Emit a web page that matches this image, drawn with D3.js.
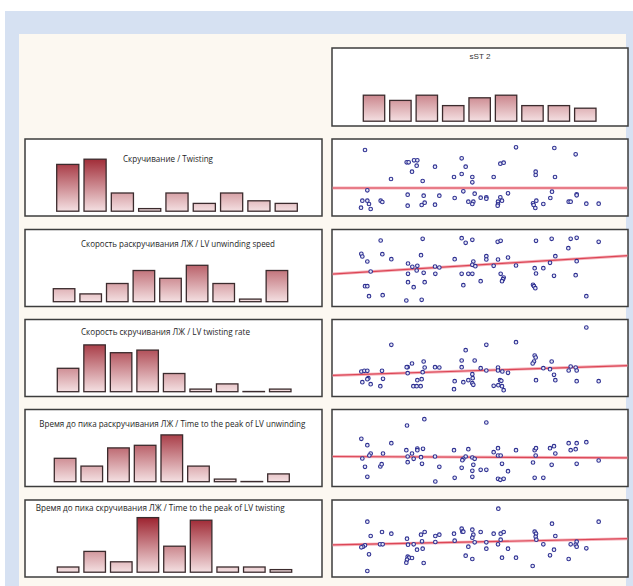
<!DOCTYPE html>
<html>
<head>
<meta charset="utf-8">
<script src="https://cdn.jsdelivr.net/npm/d3@7"></script>
<style>
body { margin:0; background:#fff; }
svg { display:block; }
</style>
</head>
<body>
<div id="chart"></div>
<script>
// ---- data ----
var bins = [0,1,2,3,4,5,6,7,8];
var sst2Counts = [10,8,10,6,9,10,6,6,5];
var twistCounts = [18,20,7,1,7,3,7,4,3];
var unwindSpeedCounts = [5,3,7,12,9,14,7,1,12];
var twistRateCounts = [9,18,15,16,7,1,3,0,1];
var timeUnwindCounts = [9,6,13,14,18,6,1,0,3];
var timeTwistCounts = [2,8,4,21,10,20,2,2,1];

var topTitle = "sST 2";
var rowTitles = [
  "Скручивание / Twisting",
  "Скорость раскручивания ЛЖ / LV unwinding speed",
  "Скорость скручивания ЛЖ / LV twisting rate",
  "Время до пика раскручивания ЛЖ / Time to the peak of LV unwinding",
  "Время до пика скручивания ЛЖ / Time to the peak of LV twisting"
];

// regression lines: y = a + b*x
var fitA = [8.4, 9.7, 6.3, 9.0, 9.6];
var fitB = [0, 0.0622, 0.0333, -0.0044, 0.0211];

// scatter points [sST2, value]
var twistPts = [[10.5,19.8],[55.8,20.6],[67.3,20.4],[73.7,18.5],[23.0,16.1],[23.6,16.1],[25.2,16.7],[26.2,16.7],[26.0,15.1],[24.6,13.3],[31.5,14.8],[39.5,17.3],[40.7,14.8],[39.5,12.6],[37.2,11.7],[42.7,11.7],[42.7,10.1],[27.8,10.5],[18.3,11.1],[51.1,15.7],[52.1,16.0],[49.1,11.7],[61.7,13.3],[61.7,12.3],[67.5,11.7],[11.2,7.7],[9.7,4.6],[11.2,4.6],[11.7,3.6],[9.3,2.5],[12.2,2.1],[15.2,4.6],[15.7,4.2],[23.3,6.4],[23.3,3.1],[28.1,6.1],[27.5,3.3],[28.4,4.0],[31.5,3.4],[32.8,6.1],[37.4,5.4],[40.0,7.4],[41.5,4.3],[43.0,4.3],[42.7,3.6],[43.4,6.7],[45.2,5.5],[46.9,5.6],[46.9,5.2],[50.4,4.3],[50.4,3.5],[50.3,3.1],[51.1,5.6],[51.6,4.6],[53.4,6.8],[60.9,3.8],[61.1,3.3],[61.9,4.6],[61.6,2.4],[64.0,3.6],[66.1,5.4],[66.6,7.3],[71.6,4.3],[72.2,4.3],[74.0,6.5],[74.0,6.2],[76.9,3.7],[80.6,3.7]];
var unwindSpeedPts = [[15.2,19.8],[27.8,20.3],[39.5,20.5],[40.7,19.1],[42.7,20.0],[50.3,19.4],[51.2,19.7],[61.8,19.7],[66.5,20.3],[72.2,20.3],[74.0,20.6],[80.6,19.4],[71.5,17.5],[9.4,15.8],[9.7,15.0],[15.7,15.7],[11.2,13.5],[18.4,14.2],[27.3,15.4],[37.4,14.2],[46.9,15.1],[46.9,14.1],[50.4,14.1],[53.4,14.7],[67.6,15.1],[74.0,13.6],[66.0,13.1],[23.4,12.9],[24.7,11.9],[26.2,12.2],[26.0,10.8],[31.5,12.0],[32.8,11.7],[43.0,13.5],[42.7,12.5],[43.6,12.1],[49.1,12.2],[55.8,12.3],[61.4,11.5],[64.0,11.5],[61.8,9.9],[12.2,10.5],[23.4,9.8],[28.1,10.1],[31.6,9.8],[39.5,9.8],[41.5,9.8],[42.7,9.8],[51.2,9.8],[52.1,8.7],[51.9,8.2],[51.6,7.6],[67.2,9.2],[73.7,9.4],[23.4,7.3],[28.4,7.3],[45.2,7.6],[10.5,6.1],[11.2,6.1],[25.1,5.8],[40.0,6.4],[60.9,6.5],[61.2,6.1],[61.6,5.5],[11.7,3.1],[15.8,3.4],[22.9,1.8],[27.5,2.0],[76.9,3.1]];
var twistRatePts = [[76.9,20.7],[18.4,15.5],[46.9,15.5],[55.8,16.3],[40.7,13.9],[39.5,10.8],[43.4,10.8],[39.5,8.8],[45.2,8.5],[46.9,7.8],[50.4,8.7],[50.4,7.8],[53.4,7.1],[51.7,7.5],[61.4,12.3],[61.7,11.7],[61.2,10.5],[60.8,9.9],[66.5,10.5],[64.0,8.5],[66.0,8.2],[67.2,6.5],[67.6,4.9],[72.2,9.0],[73.7,8.7],[74.0,7.8],[71.6,7.8],[23.3,8.8],[23.0,8.8],[24.6,9.9],[28.1,10.5],[28.4,8.7],[27.8,7.3],[23.3,7.0],[31.5,8.8],[32.8,8.7],[9.4,7.5],[10.3,7.7],[11.2,7.7],[15.6,7.7],[11.5,5.5],[11.2,5.2],[9.7,4.3],[12.2,3.7],[15.1,3.1],[15.9,5.3],[26.2,4.9],[27.5,5.2],[25.0,3.1],[26.0,3.1],[27.2,3.1],[37.4,4.6],[37.2,2.2],[40.0,4.3],[41.5,4.9],[42.7,4.0],[42.8,5.5],[42.7,6.7],[43.0,3.5],[49.1,3.2],[51.0,4.9],[51.4,4.7],[50.5,3.4],[51.6,3.1],[52.1,1.9],[61.8,4.9],[74.0,4.6],[80.6,4.6]];
var timeUnwindPts = [[28.3,20.2],[23.1,18.3],[46.9,19.2],[9.4,14.3],[11.2,12.4],[18.4,13.0],[12.2,9.9],[11.8,9.3],[15.9,9.9],[9.7,8.4],[10.5,5.9],[11.2,2.9],[15.1,6.0],[15.5,6.7],[22.9,10.9],[23.3,9.0],[24.6,9.9],[26.2,11.4],[26.2,10.9],[27.9,11.3],[27.3,8.8],[25.1,8.3],[23.3,7.3],[27.6,6.8],[31.5,9.0],[32.8,5.9],[31.6,1.5],[37.2,10.9],[41.5,11.2],[40.7,9.0],[40.0,8.3],[39.7,7.9],[39.5,5.6],[42.7,8.7],[43.4,8.3],[43.0,6.5],[42.7,4.7],[42.7,2.9],[37.4,2.6],[45.2,5.0],[46.9,5.0],[49.1,10.3],[50.4,11.5],[50.4,9.3],[51.2,9.3],[51.6,6.8],[53.4,4.6],[50.4,2.3],[51.1,2.0],[52.1,2.3],[55.8,10.9],[61.4,10.9],[61.8,11.5],[61.7,9.3],[60.9,7.2],[61.4,2.6],[64.0,2.6],[66.0,11.5],[67.2,12.1],[67.6,9.9],[66.5,6.5],[71.6,13.0],[74.0,13.0],[76.9,13.3],[72.2,10.9],[73.7,11.2],[74.0,6.8],[80.6,7.8]];
var timeTwistPts = [[50.5,20.5],[80.6,16.6],[11.2,16.6],[66.6,16.0],[15.6,13.5],[18.4,13.0],[12.2,12.3],[27.3,12.7],[28.4,13.5],[31.6,12.3],[32.8,12.7],[37.2,13.0],[37.4,10.9],[39.5,14.5],[39.7,13.6],[40.0,13.6],[42.7,14.2],[43.0,12.7],[42.7,11.8],[45.2,13.5],[49.1,13.0],[51.2,13.0],[52.1,13.5],[51.2,11.2],[61.4,13.6],[61.8,13.0],[61.7,12.1],[61.9,11.2],[67.6,12.3],[23.1,11.5],[23.4,9.7],[25.1,9.8],[27.6,10.7],[26.1,8.2],[27.8,8.5],[31.6,10.5],[15.0,9.8],[15.8,9.8],[10.5,9.5],[9.9,9.1],[9.4,8.9],[43.4,10.4],[46.9,10.4],[46.9,8.5],[50.4,9.8],[53.4,8.5],[41.5,9.1],[64.0,9.8],[67.2,8.2],[66.0,6.5],[72.2,9.8],[74.0,10.6],[73.7,9.7],[74.0,9.1],[76.9,8.6],[11.7,6.8],[23.3,6.1],[23.7,5.8],[24.6,5.7],[23.1,5.2],[22.9,4.3],[28.1,4.2],[40.7,6.4],[42.7,5.4],[51.6,5.8],[55.8,5.8],[71.6,5.4],[60.8,3.3],[11.2,1.8]];

var rowCounts = [twistCounts, unwindSpeedCounts, twistRateCounts, timeUnwindCounts, timeTwistCounts];
var rowPts = [twistPts, unwindSpeedPts, twistRatePts, timeUnwindPts, timeTwistPts];

// ---- layout ----
var W = 633, H = 586;
var rowTop = [139, 229.5, 319.5, 409.5, 500];
var panelH = 77;
var leftX = [25, 322], rightX = [332, 628];
var barRange = [[56.7,297.3],[53.3,287.7],[57.3,291],[54.3,289.3],[57.3,291.7]];
var titlePos = [[123,161.5,90],[81,246.7,194],[81,335,169],[39.3,426.7,266],[35.7,511.3,249]];

var svg = d3.select("#chart").append("svg").attr("width", W).attr("height", H);
var defs = svg.append("defs");

svg.append("rect").attr("width", W).attr("height", H).attr("fill", "#fff");
svg.append("rect").attr("x", 5).attr("y", 11).attr("width", W - 5).attr("height", H - 11).attr("fill", "#d6e1f2");
svg.append("rect").attr("x", 19).attr("y", 34).attr("width", 607).attr("height", H - 34).attr("fill", "#fcf8f1");

var countScale = function(base){
  return d3.scaleLinear().domain([0, 21]).range([base, base - 54.6]);
};

function panelBox(x0, x1, y0, h){
  svg.append("rect").attr("x", x0).attr("y", y0).attr("width", x1 - x0).attr("height", h)
    .attr("fill", "#fff").attr("stroke", "#3d3d3d").attr("stroke-width", 1.5);
}

function drawBars(counts, range, base, id){
  var g = defs.append("linearGradient").attr("id", id).attr("gradientUnits", "userSpaceOnUse")
    .attr("x1", 0).attr("x2", 0).attr("y1", base).attr("y2", base - 56);
  g.append("stop").attr("offset", "0%").attr("stop-color", "#f4e0e2");
  g.append("stop").attr("offset", "100%").attr("stop-color", "#9b1f2b");

  var x = d3.scaleBand().domain(bins).range(range).paddingInner(0.19).paddingOuter(0);
  var y = countScale(base);
  // empty bins still show as a flat outline, so keep a tiny height
  svg.append("g").selectAll("rect").data(counts).enter().append("rect")
    .attr("x", function(d, i){ return x(bins[i]); })
    .attr("y", function(d){ return d > 0 ? y(d) : y(0) - 0.2; })
    .attr("width", x.bandwidth())
    .attr("height", function(d){ return Math.max(y(0) - y(d), 0.2); })
    .attr("fill", "url(#" + id + ")")
    .attr("stroke", "#3b2b2d").attr("stroke-width", 1.3);
}

// top sST2 histogram
panelBox(rightX[0], rightX[1], 48, 78);
drawBars(sst2Counts, [363.3, 596], 126 - 4.8, "gTop");
svg.append("text").attr("x", 480).attr("y", 58.5).attr("text-anchor", "middle")
  .attr("font-family", "Liberation Sans, Arial, sans-serif").attr("font-size", 8)
  .attr("textLength", 21).attr("lengthAdjust", "spacingAndGlyphs")
  .attr("fill", "#333").text(topTitle);

var xS = d3.scaleLinear().domain([0, 90]).range([330, 630]);

rowTitles.forEach(function(t, r){
  var top = rowTop[r], bot = top + panelH;

  // left: histogram
  panelBox(leftX[0], leftX[1], top, panelH);
  drawBars(rowCounts[r], barRange[r], bot - 4.8, "g" + r);
  svg.append("text").attr("x", titlePos[r][0]).attr("y", titlePos[r][1])
    .attr("font-family", "Open Sans, Noto Sans, sans-serif").attr("font-size", 8.6)
    .attr("textLength", titlePos[r][2]).attr("lengthAdjust", "spacingAndGlyphs")
    .attr("fill", "#1e1e1e").text(t);

  // right: scatter
  panelBox(rightX[0], rightX[1], top, panelH);
  var yS = d3.scaleLinear().domain([0, 23.1]).range([bot, top]);
  defs.append("clipPath").attr("id", "clip" + r).append("rect")
    .attr("x", rightX[0] + 0.75).attr("y", top + 0.75)
    .attr("width", rightX[1] - rightX[0] - 1.5).attr("height", panelH - 1.5);
  var gs = svg.append("g").attr("clip-path", "url(#clip" + r + ")");

  var xa = xS.invert(rightX[0]), xb = xS.invert(rightX[1]);
  var fit = [[xa, fitA[r] + fitB[r] * xa], [xb, fitA[r] + fitB[r] * xb]];
  var line = d3.line().x(function(d){ return xS(d[0]); }).y(function(d){ return yS(d[1]); });
  gs.append("path").attr("d", line(fit)).attr("fill", "none").attr("stroke", "#f5b3bb").attr("stroke-width", 3);
  gs.append("path").attr("d", line(fit)).attr("fill", "none").attr("stroke", "#dc4656").attr("stroke-width", 1.2);

  gs.selectAll("circle").data(rowPts[r]).enter().append("circle")
    .attr("cx", function(d){ return xS(d[0]); })
    .attr("cy", function(d){ return yS(d[1]); })
    .attr("r", 1.8)
    .attr("fill", "#e8eaf8").attr("stroke", "#2f3192").attr("stroke-width", 1.1);
});
</script>
</body>
</html>
